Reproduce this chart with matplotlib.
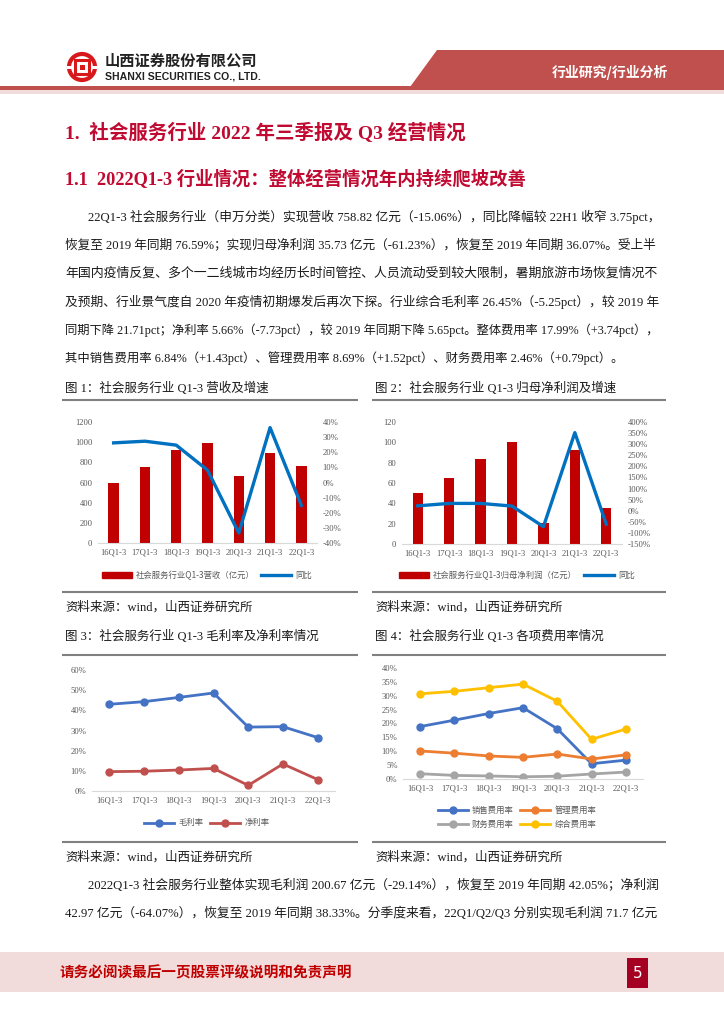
import matplotlib
matplotlib.use('Agg')
import matplotlib.pyplot as plt
import matplotlib.patches as mpatches
from matplotlib.lines import Line2D
import numpy as np

W, H = 724, 1024

# ---- chart data ----
periods = ['16Q1-3', '17Q1-3', '18Q1-3', '19Q1-3', '20Q1-3', '21Q1-3', '22Q1-3']
revenue = [592, 750, 927, 993, 664, 897, 759]            # 亿元
revenue_yoy = [26.2, 27.3, 24.7, 8.2, -33.4, 36.3, -15.1]  # %
profit = [50.5, 65.0, 84.0, 100.0, 20.6, 92.5, 35.7]       # 亿元
profit_yoy = [22, 33, 33, 21, -72, 352, -61]               # %
gross_margin = [43.0, 44.3, 46.4, 48.6, 31.7, 31.9, 26.5]
net_margin = [9.6, 9.8, 10.4, 11.2, 2.8, 13.4, 5.7]
sales_rate = [18.9, 21.2, 23.6, 25.7, 18.1, 5.5, 6.8]
admin_rate = [10.1, 9.3, 8.3, 7.8, 9.0, 7.2, 8.7]
fin_rate = [1.9, 1.3, 1.1, 0.8, 1.0, 1.8, 2.5]
total_rate = [30.7, 31.6, 32.9, 34.2, 28.0, 14.3, 18.0]

para1 = [
    "22Q1-3 社会服务行业（申万分类）实现营收 758.82 亿元（-15.06%），同比降幅较 22H1 收窄 3.75pct，",
    "恢复至 2019 年同期 76.59%；实现归母净利润 35.73 亿元（-61.23%），恢复至 2019 年同期 36.07%。受上半",
    "年国内疫情反复、多个一二线城市均经历长时间管控、人员流动受到较大限制，暑期旅游市场恢复情况不",
    "及预期、行业景气度自 2020 年疫情初期爆发后再次下探。行业综合毛利率 26.45%（-5.25pct），较 2019 年",
    "同期下降 21.71pct；净利率 5.66%（-7.73pct），较 2019 年同期下降 5.65pct。整体费用率 17.99%（+3.74pct），",
    "其中销售费用率 6.84%（+1.43pct）、管理费用率 8.69%（+1.52pct）、财务费用率 2.46%（+0.79pct）。",
]
para2 = [
    "2022Q1-3 社会服务行业整体实现毛利润 200.67 亿元（-29.14%），恢复至 2019 年同期 42.05%；净利润",
    "42.97 亿元（-64.07%），恢复至 2019 年同期 38.33%。分季度来看，22Q1/Q2/Q3 分别实现毛利润 71.7 亿元",
]

SERIF = ['Liberation Serif', 'Noto Sans CJK SC']
SANS = ['Noto Sans CJK SC', 'DejaVu Sans']
TXT = '#1a1a1a'
HEAD = '#c00a32'
TICK = '#595959'

fig = plt.figure(figsize=(W / 100, H / 100), dpi=100)
bg = fig.add_axes([0, 0, 1, 1])
bg.set_xlim(0, W)
bg.set_ylim(H, 0)
bg.axis('off')
renderer = fig.canvas.get_renderer()


def hline(x0, x1, y, color='#808080', lw=1.5):
    bg.plot([x0, x1], [y, y], color=color, lw=lw, solid_capstyle='butt')


def body_line(x0, x1, y, s, size=8.9, justify=True):
    t = bg.text(x0, y, s, fontsize=size, family=SERIF, color=TXT,
                ha='left', va='center')
    if justify:
        w = t.get_window_extent(renderer).width
        scale = min(max((x1 - x0) / w, 0.92), 1.08)
        t.set_fontsize(size * scale)


# ---- header ----
bg.add_patch(mpatches.Polygon([(437, 50), (724, 50), (724, 87), (410, 87)],
                              closed=True, color='#c0504d', lw=0))
bg.add_patch(mpatches.Rectangle((0, 86), W, 3.5, color='#c0504d', lw=0))
bg.add_patch(mpatches.Rectangle((0, 89.5), W, 4, color='#f2dcdb', lw=0))
bg.text(610, 72, '行业研究/行业分析', fontsize=10, family=SANS, color='white',
        fontweight='bold', ha='center', va='center')

# logo
bg.add_patch(mpatches.Circle((82, 67), 13, fill=False, ec='#d7191c', lw=3))
bg.add_patch(mpatches.Rectangle((75, 60), 14, 14, fill=False, ec='#d7191c', lw=2.2))
bg.add_patch(mpatches.Rectangle((79.5, 64.5), 5, 5, color='#d7191c', lw=0))
bg.add_patch(mpatches.Rectangle((67, 65.5), 5, 3, color='white', lw=0))
bg.add_patch(mpatches.Rectangle((92, 65.5), 5, 3, color='white', lw=0))
bg.text(105, 61, '山西证券股份有限公司', fontsize=11, family=SANS, color='#222222',
        fontweight='bold', ha='left', va='center')
bg.text(105, 76.5, 'SHANXI SECURITIES CO., LTD.', fontsize=7.6, family='Liberation Sans',
        color='#222222', fontweight='bold', ha='left', va='center')

# ---- headings ----
bg.text(65, 133, '1.  社会服务行业 2022 年三季报及 Q3 经营情况', fontsize=14, family=SERIF,
        color=HEAD, fontweight='bold', ha='left', va='center')
bg.text(65, 180, '1.1  2022Q1-3 行业情况：整体经营情况年内持续爬坡改善', fontsize=13.2,
        family=SERIF, color=HEAD, fontweight='bold', ha='left', va='center')

# ---- first paragraph ----
ys = [217, 245, 273, 302, 330, 358]
for i, (s, y) in enumerate(zip(para1, ys)):
    body_line(88 if i == 0 else 65, 660, y, s, justify=(i < len(para1) - 1))

# ---- captions / rules ----
cap_kw = dict(fontsize=9, family=SERIF, color=TXT, ha='left', va='center')
bg.text(65, 388, '图 1：社会服务行业 Q1-3 营收及增速', **cap_kw)
bg.text(375, 388, '图 2：社会服务行业 Q1-3 归母净利润及增速', **cap_kw)
bg.text(65, 636, '图 3：社会服务行业 Q1-3 毛利率及净利率情况', **cap_kw)
bg.text(375, 636, '图 4：社会服务行业 Q1-3 各项费用率情况', **cap_kw)
for y in (400, 592, 655, 842):
    hline(62, 358, y)
    hline(372, 666, y)
for y in (607, 857):
    bg.text(65, y, '资料来源：wind，山西证券研究所', **cap_kw)
    bg.text(375, y, '资料来源：wind，山西证券研究所', **cap_kw)

# ---- second paragraph ----
body_line(88, 660, 885, para2[0])
body_line(65, 660, 913, para2[1])

# ---- footer ----
bg.add_patch(mpatches.Rectangle((0, 952), W, 40, color='#f2dcdb', lw=0))
bg.text(60, 972, '请务必阅读最后一页股票评级说明和免责声明', fontsize=10.5, family=SANS,
        color='#c00000', fontweight='bold', ha='left', va='center')
bg.add_patch(mpatches.Rectangle((627, 958), 21, 30, color='#a50021', lw=0))
bg.text(637.5, 973, '5', fontsize=11, family='DejaVu Sans', color='white',
        ha='center', va='center')


# ---- charts ----
def axes_px(x0, y0, x1, y1):
    return fig.add_axes([x0 / W, 1 - y1 / H, (x1 - x0) / W, (y1 - y0) / H])


def style(ax, bottom=True):
    for s in ['top', 'right', 'left', 'bottom']:
        ax.spines[s].set_visible(False)
    if bottom:
        ax.spines['bottom'].set_visible(True)
        ax.spines['bottom'].set_color('#d9d9d9')
    ax.patch.set_alpha(0)
    ax.tick_params(length=0, labelsize=6.2, colors=TICK, pad=4)
    for lab in ax.get_xticklabels() + ax.get_yticklabels():
        lab.set_family('Liberation Serif')


def pct(vals):
    return [f'{v}%' for v in vals]


x = np.arange(len(periods))
leg_kw = dict(frameon=False, prop={'family': SANS, 'size': 6},
              labelcolor=TICK, handlelength=3.6, columnspacing=0.8, handletextpad=0.5)

# chart 1
ax1 = axes_px(98, 422, 317, 543)
ax1.bar(x, revenue, width=0.33, color='#c00000')
ax1.set_xlim(-0.5, 6.5)
ax1.set_ylim(0, 1200)
ax1.set_yticks(range(0, 1201, 200))
ax1.set_xticks(x)
ax1.set_xticklabels(periods)
ax1b = ax1.twinx()
ax1b.plot(x, revenue_yoy, color='#0070c0', lw=2.4)
ax1b.set_ylim(-40, 40)
ax1b.set_yticks(range(-40, 41, 10))
ax1b.set_yticklabels(pct(range(-40, 41, 10)))
style(ax1)
style(ax1b, bottom=False)
fig.legend([mpatches.Patch(color='#c00000'), Line2D([], [], color='#0070c0', lw=2.4)],
           ['社会服务行业Q1-3营收（亿元）', '同比'], loc='center', ncol=2,
           bbox_to_anchor=(207 / W, 1 - 575 / H), **leg_kw)

# chart 2
ax2 = axes_px(402, 422, 622, 544)
ax2.bar(x, profit, width=0.33, color='#c00000')
ax2.set_xlim(-0.5, 6.5)
ax2.set_ylim(0, 120)
ax2.set_yticks(range(0, 121, 20))
ax2.set_xticks(x)
ax2.set_xticklabels(periods)
ax2b = ax2.twinx()
ax2b.plot(x, profit_yoy, color='#0070c0', lw=2.4)
ax2b.set_ylim(-150, 400)
ax2b.set_yticks(range(-150, 401, 50))
ax2b.set_yticklabels(pct(range(-150, 401, 50)))
style(ax2)
style(ax2b, bottom=False)
fig.legend([mpatches.Patch(color='#c00000'), Line2D([], [], color='#0070c0', lw=2.4)],
           ['社会服务行业Q1-3归母净利润（亿元）', '同比'], loc='center', ncol=2,
           bbox_to_anchor=(517 / W, 1 - 575 / H), **leg_kw)

# chart 3
ax3 = axes_px(92, 670, 335, 791)
ax3.plot(x, gross_margin, color='#4472c4', lw=2, marker='o', ms=5, label='毛利率')
ax3.plot(x, net_margin, color='#c0504d', lw=2, marker='o', ms=5, label='净利率')
ax3.set_xlim(-0.5, 6.5)
ax3.set_ylim(0, 60)
ax3.set_yticks(range(0, 61, 10))
ax3.set_yticklabels(pct(range(0, 61, 10)))
ax3.set_xticks(x)
ax3.set_xticklabels(periods)
style(ax3)
h3, l3 = ax3.get_legend_handles_labels()
fig.legend(h3, l3, loc='center', ncol=2, bbox_to_anchor=(207 / W, 1 - 823 / H), **leg_kw)

# chart 4
ax4 = axes_px(403, 668, 643, 779)
series4 = [(sales_rate, '#4472c4', '销售费用率'), (admin_rate, '#ed7d31', '管理费用率'),
           (fin_rate, '#a5a5a5', '财务费用率'), (total_rate, '#ffc000', '综合费用率')]
for vals, c, lab in series4:
    ax4.plot(x, vals, color=c, lw=2, marker='o', ms=5, label=lab)
ax4.set_xlim(-0.5, 6.5)
ax4.set_ylim(0, 40)
ax4.set_yticks(range(0, 41, 5))
ax4.set_yticklabels(pct(range(0, 41, 5)))
ax4.set_xticks(x)
ax4.set_xticklabels(periods)
style(ax4)
h4, l4 = ax4.get_legend_handles_labels()
order = [0, 2, 1, 3]  # legend fills column-wise: rows become 销售/管理, 财务/综合
fig.legend([h4[i] for i in order], [l4[i] for i in order], loc='center', ncol=2,
           bbox_to_anchor=(517 / W, 1 - 817 / H), **dict(leg_kw, labelspacing=0.6))

fig.savefig('out.png', dpi=100)
